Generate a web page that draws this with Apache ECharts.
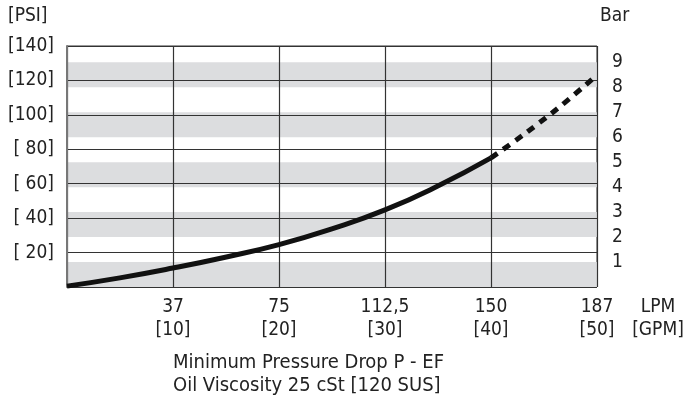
<!DOCTYPE html>
<html><head><meta charset="utf-8">
<script src="https://cdn.jsdelivr.net/npm/echarts@6/dist/echarts.min.js"></script>
<style>html,body{margin:0;padding:0;background:#fff}#c{width:694px;height:408px}</style>
</head><body><div id="c"></div>
<script>
// Flow in LPM (x), pressure drop in PSI (y)
const solidCurve = [[0,0.5],[18.7,5.3],[37.5,11],[56,17.3],[75,24.6],[93.7,33.8],[112.5,44.8],[131,58.5],[150,75]];
const dashedCurve = [[150,75],[158,84.3],[167,95.3],[176,107],[186,121]];
const lpmLabels = ['37','75','112,5','150','187'];
const gpmLabels = ['[10]','[20]','[30]','[40]','[50]'];
const psiLabels = ['[ 20]','[ 40]','[ 60]','[ 80]','[100]','[120]','[140]'];
const barLabels = ['1','2','3','4','5','6','7','8','9'];
const PSI_PER_BAR = 14.5038;
const FONT = "'DejaVu Sans Condensed','Liberation Sans Narrow',sans-serif";
const TXT = '#222';

const chart = echarts.init(document.getElementById('c'));
chart.setOption({
  animation:false,
  grid:{left:67,right:97,top:46,bottom:121,show:true,borderColor:'#333',borderWidth:1,backgroundColor:'transparent'},
  xAxis:{type:'value',min:0,max:187.5,interval:37.5,
    axisLine:{show:false},axisTick:{show:false},
    splitLine:{show:true,lineStyle:{color:'#333',width:1.2}},
    axisLabel:{margin:9,color:TXT,fontFamily:FONT,fontSize:19,lineHeight:23,
      formatter:function(v){const i=Math.round(v/37.5)-1;return i>=0&&i<lpmLabels.length?lpmLabels[i]+'\n'+gpmLabels[i]:'';}}
  },
  yAxis:[
    {type:'value',min:0,max:140,interval:20,z:2,position:'left',
      axisLine:{show:true,lineStyle:{color:'#777',width:2}},axisTick:{show:false},
      splitLine:{show:true,lineStyle:{color:'#333',width:1.2}},
      axisLabel:{margin:13,color:TXT,fontFamily:FONT,fontSize:19,
        formatter:function(v){const i=Math.round(v/20)-1;return i>=0&&i<psiLabels.length?psiLabels[i]:'';}}
    },
    {type:'value',min:0,max:140/PSI_PER_BAR,interval:1,z:0,position:'right',
      axisLine:{show:false},axisTick:{show:false},splitLine:{show:false},
      splitArea:{show:true,areaStyle:{color:['#dcdddf','rgba(255,255,255,0)']}},
      axisLabel:{margin:15,color:TXT,fontFamily:FONT,fontSize:19,showMaxLabel:false,
        formatter:function(v){const i=Math.round(v)-1;return i>=0&&i<barLabels.length?barLabels[i]:'';}}
    }
  ],
  graphic:[
    {type:'text',left:8,top:7,style:{text:'[PSI]',fill:TXT,font:'19px '+FONT}},
    {type:'text',left:600,top:7,style:{text:'Bar',fill:TXT,font:'19px '+FONT}},
    {type:'text',x:658,y:296,style:{text:'LPM\n[GPM]',fill:TXT,font:'19px '+FONT,align:'center',lineHeight:23}},
    {type:'text',x:173,y:351,style:{text:'Minimum Pressure Drop P - EF\nOil Viscosity 25 cSt [120 SUS]',fill:TXT,font:'20px '+FONT,lineHeight:23}}
  ],
  series:[
    {type:'line',data:solidCurve,smooth:0.5,symbol:'none',yAxisIndex:0,
      lineStyle:{color:'#111',width:5,cap:'butt'},z:5,clip:false},
    {type:'line',data:dashedCurve,smooth:0.5,symbol:'none',yAxisIndex:0,
      lineStyle:{color:'#111',width:5,type:[8,7],cap:'butt'},z:5,clip:false}
  ]
});
</script></body></html>
